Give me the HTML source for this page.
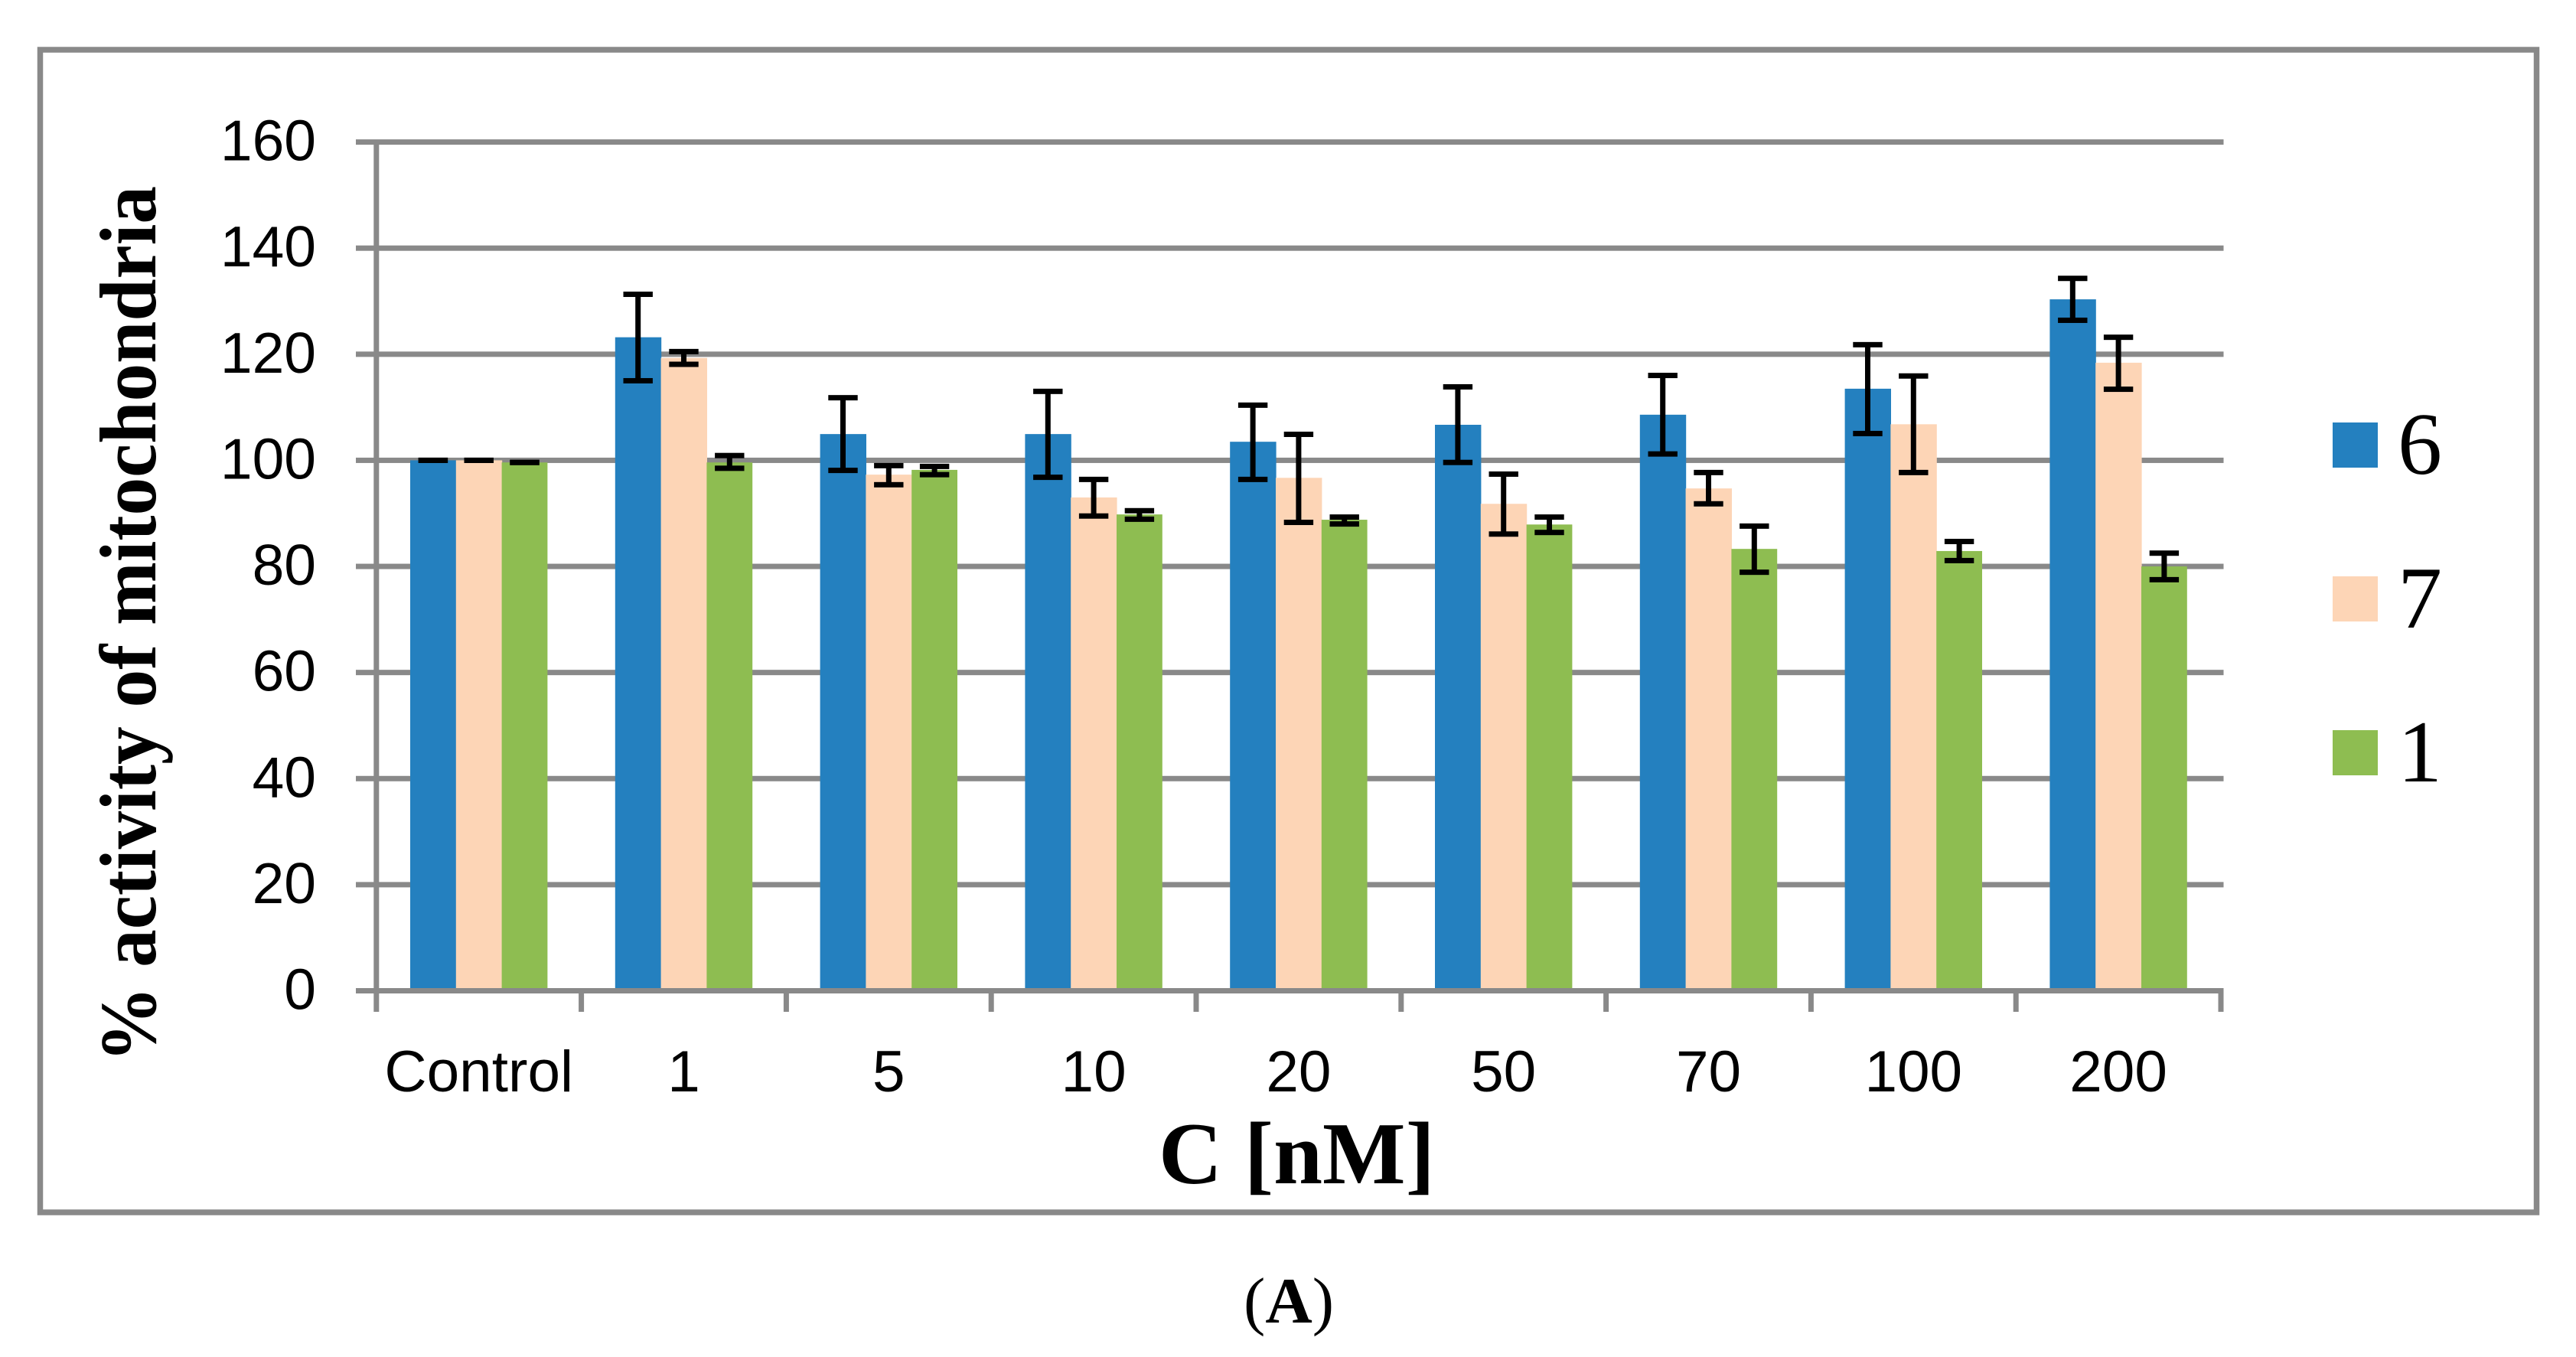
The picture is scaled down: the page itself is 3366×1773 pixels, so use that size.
<!DOCTYPE html>
<html lang="en">
<head>
<meta charset="utf-8">
<title>Mitochondrial activity chart</title>
<style>
  html, body { margin: 0; padding: 0; background: #fff; }
  svg { display: block; }
</style>
</head>
<body>
<svg id="chart" xmlns="http://www.w3.org/2000/svg" width="3366" height="1773" viewBox="0 0 3366 1773">
  <rect x="0" y="0" width="3366" height="1773" fill="#ffffff"/>
  <rect x="52.5" y="65" width="3262" height="1519" fill="none" stroke="#898989" stroke-width="7.5"/>
  <g id="grid"></g>
  <g id="bars"></g>
  <g id="axes"></g>
  <g id="errors"></g>
  <g id="labels" font-family="'Liberation Sans', sans-serif" font-size="75" fill="#000"></g>
  <g id="legend"></g>
  <text transform="translate(203,1388) rotate(-90)" x="0" y="0" font-family="'Liberation Serif', serif" font-weight="bold" font-size="105" textLength="1145" lengthAdjust="spacingAndGlyphs" fill="#000">% activity of mitochondria</text>
  <text x="1514" y="1546" font-family="'Liberation Serif', serif" font-weight="bold" font-size="115" fill="#000">C [nM]</text>
  <text x="1625" y="1728" font-family="'Liberation Serif', serif" font-size="85" fill="#000">(<tspan font-weight="bold">A</tspan>)</text>
</svg>
<script>
const categories = ['Control', '1', '5', '10', '20', '50', '70', '100', '200'];
const yTicks = [0, 20, 40, 60, 80, 100, 120, 140, 160];
const seriesNames = ['6', '7', '1'];
const seriesColors = ['#2480bf', '#fdd5b6', '#8ebd51'];

const values6 = [100, 123.2, 104.95, 104.95, 103.5, 106.7, 108.6, 113.5, 130.35];
const values7 = [100, 119.3, 97.3, 93.0, 96.7, 91.8, 94.7, 106.8, 118.4];
const values1 = [99.6, 99.6, 98.2, 89.8, 88.8, 87.9, 83.3, 82.9, 80.0];

const upper6 = [100, 131.3, 111.8, 113.0, 110.4, 113.85, 116.0, 121.8, 134.3];
const lower6 = [100, 115.0, 98.1, 96.8, 96.4, 99.6, 101.2, 105.05, 126.4];
const upper7 = [100, 120.5, 99.0, 96.4, 104.9, 97.4, 97.7, 115.9, 123.2];
const lower7 = [100, 118.1, 95.4, 89.5, 88.3, 86.1, 91.8, 97.7, 113.4];
const upper1 = [99.6, 100.9, 98.85, 90.5, 89.3, 89.3, 87.6, 84.7, 82.5];
const lower1 = [99.6, 98.5, 97.3, 88.9, 88.0, 86.4, 78.9, 81.1, 77.5];

const seriesValues = [values6, values7, values1];
const seriesUpper = [upper6, upper7, upper1];
const seriesLower = [lower6, lower7, lower1];

const NS = 'http://www.w3.org/2000/svg';
const GRAY = '#898989';
const plotLeft = 491.8;
const plotRight = 2902;
const plotTop = 185.6;
const plotBottom = 1294.5;
const yMax = 160;
const catWidth = (plotRight - plotLeft) / categories.length;
const barWidth = 59.8;
const groupPad = (catWidth - barWidth * seriesNames.length) / 2;

function yScale(v) {
  return plotBottom - (v / yMax) * (plotBottom - plotTop);
}
function xCat(i) {
  return plotLeft + i * catWidth;
}
function xBar(i, s) {
  return xCat(i) + groupPad + s * barWidth;
}
function make(parent, tag, attrs) {
  const el = document.createElementNS(NS, tag);
  for (const k in attrs) el.setAttribute(k, attrs[k]);
  parent.appendChild(el);
  return el;
}

const grid = document.getElementById('grid');
const bars = document.getElementById('bars');
const axes = document.getElementById('axes');
const errors = document.getElementById('errors');
const labels = document.getElementById('labels');
const legend = document.getElementById('legend');

yTicks.forEach(function (t) {
  if (t !== 0) {
    const line = make(grid, 'rect', { x: 465, y: yScale(t) - 3.5, width: plotRight + 3.5 - 465, height: 7, fill: GRAY });
    
    
  }
  const label = make(labels, 'text', { x: 413, y: yScale(t) + 24, 'text-anchor': 'end' });
  label.textContent = String(t);
  
  
});

seriesNames.forEach(function (name, s) {
  categories.forEach(function (cat, i) {
    const top = yScale(seriesValues[s][i]);
    const bar = make(bars, 'rect', {
      x: xBar(i, s),
      y: top,
      width: barWidth + (s < seriesNames.length - 1 ? 0.6 : 0),
      height: plotBottom - top,
      fill: seriesColors[s]
    });
    
    
  });
});

const yAxisLine = make(axes, 'rect', { x: plotLeft - 3.5, y: plotTop, width: 7, height: 1322 - plotTop, fill: GRAY });



const baseline = make(axes, 'rect', { x: 465, y: plotBottom - 3.5, width: plotRight + 3.5 - 465, height: 7, fill: GRAY });



for (let i = 1; i <= categories.length; i++) {
  const tick = make(axes, 'rect', { x: xCat(i) - 3.5, y: plotBottom, width: 7, height: 1322 - plotBottom, fill: GRAY });
  
  
}

categories.forEach(function (cat, i) {
  const label = make(labels, 'text', { x: xCat(i) + catWidth / 2, y: 1426, 'text-anchor': 'middle', 'font-size': 76.5 });
  label.textContent = cat;
  
  
});

seriesNames.forEach(function (name, s) {
  categories.forEach(function (cat, i) {
    const cx = xBar(i, s) + barWidth / 2;
    const yTop = yScale(seriesUpper[s][i]);
    const yBot = yScale(seriesLower[s][i]);
    const group = make(errors, 'g', { fill: '#000' });
    
    
    make(group, 'rect', { x: cx - 3.5, y: yTop, width: 7, height: yBot - yTop });
    make(group, 'rect', { x: cx - 19.2, y: yTop - 3.5, width: 38.4, height: 7 });
    make(group, 'rect', { x: cx - 19.2, y: yBot - 3.5, width: 38.4, height: 7 });
  });
});

const legendSwatchY = [552, 753, 954];
seriesNames.forEach(function (name, s) {
  const entry = make(legend, 'g', {});
  
  
  const swatch = make(entry, 'rect', { x: 3048, y: legendSwatchY[s], width: 59, height: 59, fill: seriesColors[s] });
  
  
  const text = make(entry, 'text', {
    x: 3133,
    y: legendSwatchY[s] + 67,
    'font-family': "'Liberation Serif', serif",
    'font-size': 116,
    fill: '#000'
  });
  text.textContent = name;
  
  
});
</script>
</body>
</html>
